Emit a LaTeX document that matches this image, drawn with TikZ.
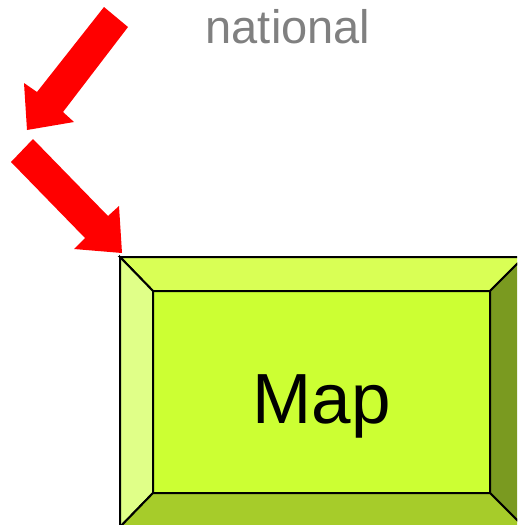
\documentclass[tikz,border=0pt]{standalone}
\usepackage{fontspec}
\setmainfont{Liberation Sans}
\definecolor{arrowred}{RGB}{255,0,0}
\definecolor{facegreen}{RGB}{204,255,51}
\definecolor{topgreen}{RGB}{217,255,85}
\definecolor{leftgreen}{RGB}{224,255,136}
\definecolor{rightgreen}{RGB}{122,154,32}
\definecolor{bottomgreen}{RGB}{166,204,42}
\definecolor{textgrey}{RGB}{128,128,128}
\tikzset{
  redarrow/.style={fill=arrowred, draw=none},
  bevel/.style={draw=black, line width=2pt, line join=miter},
  facebox/.style={draw=black, line width=2pt, fill=facegreen, minimum width=337pt, minimum height=202pt, inner sep=0pt, outer sep=0pt},
  maptext/.style={font=\fontsize{71}{78}\selectfont, text=black, anchor=base, inner sep=0pt},
  greytext/.style={font=\fontsize{47}{52}\selectfont, text=textgrey, anchor=base, inner sep=0pt}
}
\begin{document}
\begin{tikzpicture}[x=1pt, y=-1pt]
\useasboundingbox (0,0) rectangle (517,525);
\clip (0,0) rectangle (517,525);
% title
\node[greytext] (title) at (288,43) {national};
% arrows
\fill[redarrow] (104,7) -- (128,27) -- (63,112) -- (74,122) -- (27,130) -- (24,83) -- (37,92) -- cycle;
\fill[redarrow] (33,139) -- (108,216) -- (119,206) -- (122,253) -- (74,249) -- (85,238) -- (11,162) -- cycle;
% bevelled box
\node[facebox] (map) at (321.5,392) {};
\coordinate (onw) at (120,257);
\coordinate (one) at (524,257);
\coordinate (ose) at (524,527);
\coordinate (osw) at (120,527);
\filldraw[bevel, fill=topgreen] (onw) -- (one) -- (map.north east) -- (map.north west) -- cycle;
\filldraw[bevel, fill=leftgreen] (onw) -- (map.north west) -- (map.south west) -- (osw) -- cycle;
\filldraw[bevel, fill=rightgreen] (one) -- (ose) -- (map.south east) -- (map.north east) -- cycle;
\filldraw[bevel, fill=bottomgreen] (osw) -- (map.south west) -- (map.south east) -- (ose) -- cycle;
\node[maptext] (maplabel) at (321.5,423) {Map};
\end{tikzpicture}
\end{document}
